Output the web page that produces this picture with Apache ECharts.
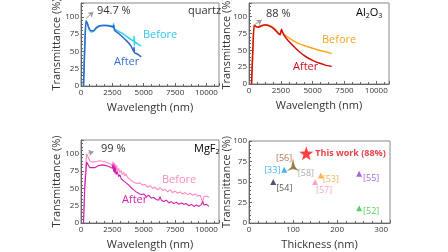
<!DOCTYPE html>
<html>
<head>
<meta charset="utf-8">
<script src="https://cdn.jsdelivr.net/npm/echarts@6/dist/echarts.min.js"></script>
<style>
  html, body { margin: 0; padding: 0; background: #fff; }
  #chart { width: 448px; height: 252px; }
</style>
</head>
<body>
<div id="chart"></div>
<script>
// quartz: [wavelength nm, transmittance %]
const quartzBefore = [[200,0],[300,60],[400,94.7],[500,90],[650,82],[800,78],[1000,79],[1200,83],[1500,87],[1800,88],[2100,88],[2400,87],[2550,86],[2600,90],[2650,84],[2700,82],[3000,79],[3300,76],[3600,72],[3900,68],[4200,65],[4230,72],[4260,59],[4300,64],[4500,61],[4800,58]];
const quartzAfter = [[200,0],[300,55],[400,94],[500,91],[650,83],[800,80],[1000,80],[1200,84],[1500,87],[1800,87.5],[2100,87],[2400,86],[2550,85],[2600,88],[2650,82],[2700,80],[3000,76],[3300,71],[3600,66],[3900,60],[4100,54],[4200,50],[4230,56],[4260,48],[4400,47],[4600,45],[4800,42]];

const aluminaBefore = [[200,0],[300,50],[400,86],[500,85],[700,84],[900,85],[1200,87],[1400,87.5],[1700,86],[2000,82],[2300,76],[2450,74],[2550,79],[2650,76],[3000,70],[3500,64],[4000,59],[4500,56],[5000,53],[5500,50],[6000,48],[6500,45]];
const aluminaAfter = [[200,0],[300,50],[400,87],[500,86],[700,84],[900,86],[1200,87.5],[1400,87.5],[1700,85],[2000,81],[2300,75],[2450,73],[2550,81],[2700,74],[3000,66],[3500,56],[4000,47],[4500,40],[5000,35],[5500,31],[6000,28],[6500,26]];

const mgf2Before = [[200,0],[300,60],[450,100],[550,96],[700,90],[900,88],[1200,89],[1500,90],[1800,89],[2100,87],[2400,85],[2500,82],[2550,89],[2600,78],[2650,87],[2700,76],[2750,85],[2800,77],[2850,83],[2900,74],[3000,79],[3100,73],[3200,76],[3300,70],[3400,73],[3500,68],[3600,71],[3700,66],[3800,68],[3900,63],[4000,65],[4100,60],[4200,62],[4300,58],[4400,60],[4500,57],[4700,58],[4900,55],[5100,56],[5300,52],[5500,54],[5700,50],[5900,52],[6100,48],[6300,51],[6500,47],[6700,49],[6900,45],[7100,48],[7300,44],[7500,46],[7700,43],[7900,45],[8100,42],[8300,44],[8500,41],[8700,43],[8900,40],[9100,42],[9300,39],[9500,40],[9600,35],[9700,30],[9800,38],[10000,39],[10200,37]];
const mgf2After = [[200,0],[300,50],[450,88],[550,87],[700,80],[850,78],[1100,80],[1400,83],[1700,84],[2000,83],[2300,81],[2500,79],[2550,85],[2600,74],[2650,83],[2700,72],[2750,80],[2800,70],[2900,74],[3000,67],[3100,70],[3200,64],[3300,66],[3400,61],[3500,63],[3600,58],[3700,60],[3800,55],[3900,57],[4000,51],[4100,53],[4200,48],[4300,50],[4400,45],[4600,43],[4800,41],[5000,42],[5200,38],[5400,40],[5600,36],[5800,37],[6000,34],[6200,33],[6300,38],[6400,33],[6600,31],[6800,33],[7000,29],[7200,31],[7400,28],[7600,30],[7800,27],[8000,29],[8200,27],[8400,28],[8600,25],[8800,27],[9000,24],[9200,26],[9400,24],[9600,27],[9700,31],[9800,26],[10000,27],[10200,24]];

// peak arrows: [from, to] and their texts
const peakArrows = [
  [[420, 98], [980, 107]],
  [[370, 87], [1000, 95]],
  [[580, 101], [1000, 103]],
];
const peakTexts = ['94.7 %', '88 %', '99 %'];

// comparison panel
const refNames = ['[33]', '[54]', '[58]', '[56]', '[57]', '[53]', '[55]', '[52]'];
const refThickness = [80, 55, 102, 100, 150, 163, 250, 250];
const refTransmittance = [65, 50, 69, 71, 50, 58, 60, 18];
const thisWork = [130, 85];
const thisWorkLabel = 'This work (88%)';

const FONT = 'Open Sans';
const AXIS_COLOR = '#666';

const chart = echarts.init(document.getElementById('chart'), null, { renderer: 'canvas' });

const grids = [
  { left: 81, top: 3, width: 138, height: 83 },
  { left: 249, top: 3, width: 140, height: 81 },
  { left: 81, top: 140, width: 138, height: 83 },
  { left: 249, top: 141, width: 141, height: 82 },
];

function xAxisFor(index, max, interval, name, minorSplit) {
  return {
    type: 'value', gridIndex: index, min: 0, max, interval,
    name, nameLocation: 'middle', nameGap: 16, nameMoveOverlap: false,
    nameTextStyle: { fontFamily: FONT, fontSize: 11, color: '#333' },
    axisLine: { show: true, lineStyle: { color: AXIS_COLOR, width: 1 } },
    axisTick: { show: true, inside: true, length: 3, lineStyle: { color: AXIS_COLOR } },
    minorTick: { show: true, splitNumber: minorSplit, length: 2, lineStyle: { color: AXIS_COLOR } },
    axisLabel: { fontFamily: FONT, fontSize: 8, color: '#333', margin: 3, showMaxLabel: false, formatter: (v) => String(v) },
    splitLine: { show: false },
  };
}

function yAxisFor(index, max, gap) {
  return {
    type: 'value', gridIndex: index, min: 0, max, interval: 25,
    name: 'Transmittance (%)', nameLocation: 'middle', nameGap: gap, nameMoveOverlap: false,
    nameTextStyle: { fontFamily: FONT, fontSize: 11, color: '#333' },
    axisLine: { show: true, lineStyle: { color: AXIS_COLOR, width: 1 } },
    axisTick: { show: true, inside: true, length: 3, lineStyle: { color: AXIS_COLOR } },
    minorTick: { show: true, splitNumber: 5, length: 2, lineStyle: { color: AXIS_COLOR } },
    axisLabel: { fontFamily: FONT, fontSize: 8, color: '#333', margin: 2, showMaxLabel: max === 100, formatter: (v) => String(v) },
    splitLine: { show: false },
  };
}

function lineSeries(index, data, color, width, smooth, arrow) {
  const s = {
    type: 'line', xAxisIndex: index, yAxisIndex: index, data,
    showSymbol: false, smooth, lineStyle: { color, width: width }, itemStyle: { color },
    silent: true, z: 3,
  };
  if (arrow) {
    s.markLine = {
      silent: true, symbol: ['none', 'arrow'], symbolSize: 5,
      lineStyle: { color: '#999', width: 1, type: 'solid' },
      label: { show: false },
      data: [[{ coord: arrow[0] }, { coord: arrow[1] }]],
    };
  }
  return s;
}

const starPath = 'path://M0,-10 L2.35,-3.24 L9.51,-3.09 L3.8,1.24 L5.88,8.09 L0,4 L-5.88,8.09 L-3.8,1.24 L-9.51,-3.09 L-2.35,-3.24 Z';
const tripodPath = 'path://M0,-10 L2.5,2 L9,8 L0,4.5 L-9,8 L-2.5,2 Z';

const refColors = ['#1e9cff', '#1b2a44', '#a8a8a8', '#8b6a1a', '#ff8fb0', '#ffa21f', '#9040d0', '#2fbf3f'];
const refLabelColors = ['#1e9cff', '#333333', '#9a9a9a', '#a0522d', '#ff8fb0', '#e8a830', '#9040d0', '#2fbf3f'];
const refLabelOffsets = [[-12, 1], [11, 6], [12, 7], [-9, -6], [9, 8], [10, 4], [12, 5], [12, 3]];

const refSeries = refNames.map((name, i) => ({
  type: 'scatter', xAxisIndex: 3, yAxisIndex: 3,
  data: [[refThickness[i], refTransmittance[i]]],
  symbol: name === '[56]' ? tripodPath : 'triangle',
  symbolSize: name === '[56]' ? 13 : 6,
  itemStyle: { color: refColors[i] },
  label: {
    show: true, position: 'inside', offset: refLabelOffsets[i], formatter: name,
    fontFamily: FONT, fontSize: 9, color: refLabelColors[i],
  },
  silent: true, z: 4,
}));

const noteStyle = { fontFamily: FONT, fontSize: 11, fill: '#333' };
const subRich = (fill) => ({
  a: { fontFamily: FONT, fontSize: 11, color: fill },
  s: { fontFamily: FONT, fontSize: 7, color: fill, padding: [6, 0, 0, 0] },
});

chart.setOption({
  animation: false,
  backgroundColor: '#fff',
  grid: grids.map((g) => ({ ...g, show: true, borderColor: '#888', borderWidth: 1, backgroundColor: '#fff', outerBoundsMode: 'none' })),
  xAxis: [
    xAxisFor(0, 11000, 2500, 'Wavelength (nm)', 4),
    xAxisFor(1, 11000, 2500, 'Wavelength (nm)', 4),
    xAxisFor(2, 11000, 2500, 'Wavelength (nm)', 4),
    xAxisFor(3, 320, 100, 'Thickness (nm)', 5),
  ],
  yAxis: [yAxisFor(0, 120, 19), yAxisFor(1, 120, 17), yAxisFor(2, 120, 19), yAxisFor(3, 100, 17)],
  series: [
    lineSeries(0, quartzBefore, '#2fd0f2', 1.5, 0.2, peakArrows[0]),
    lineSeries(0, quartzAfter, '#3366cc', 1.5, 0.2),
    lineSeries(1, aluminaBefore, '#ffa41a', 1.5, 0.2, peakArrows[1]),
    lineSeries(1, aluminaAfter, '#d01010', 1.5, 0.2),
    lineSeries(2, mgf2Before, '#ff88c4', 1.1, false, peakArrows[2]),
    lineSeries(2, mgf2After, '#d020b0', 1.1, false),
    ...refSeries,
    {
      type: 'scatter', xAxisIndex: 3, yAxisIndex: 3,
      data: [thisWork], symbol: starPath, symbolSize: 14,
      itemStyle: { color: '#ff1010' },
      label: {
        show: true, position: 'right', distance: 2, formatter: thisWorkLabel,
        fontFamily: FONT, fontSize: 9, fontWeight: 'bold', color: '#e0101a',
      },
      silent: true, z: 5,
    },
  ],
  graphic: [
    { type: 'text', left: 97, top: 5, style: { text: peakTexts[0], ...noteStyle } },
    { type: 'text', left: 266, top: 8, style: { text: peakTexts[1], ...noteStyle } },
    { type: 'text', left: 101, top: 143, style: { text: peakTexts[2], ...noteStyle } },
    { type: 'text', left: 188, top: 5, style: { text: 'quartz', ...noteStyle } },
    { type: 'text', left: 356, top: 7, style: { text: '{a|Al}{s|2}{a|O}{s|3}', rich: subRich('#333') } },
    { type: 'text', left: 194, top: 143, style: { text: '{a|MgF}{s|2}', rich: subRich('#333') } },
    { type: 'text', left: 143, top: 29, style: { text: 'Before', fontFamily: FONT, fontSize: 11, fill: '#2fc8f0' } },
    { type: 'text', left: 114, top: 56, style: { text: 'After', fontFamily: FONT, fontSize: 11, fill: '#3a6fd0' } },
    { type: 'text', left: 322, top: 34, style: { text: 'Before', fontFamily: FONT, fontSize: 11, fill: '#f5a623' } },
    { type: 'text', left: 293, top: 61, style: { text: 'After', fontFamily: FONT, fontSize: 11, fill: '#cc1020' } },
    { type: 'text', left: 162, top: 174, style: { text: 'Before', fontFamily: FONT, fontSize: 11, fill: '#ff88c4' } },
    { type: 'text', left: 122, top: 194, style: { text: 'After', fontFamily: FONT, fontSize: 11, fill: '#d020b0' } },
  ],
});
</script>
</body>
</html>
